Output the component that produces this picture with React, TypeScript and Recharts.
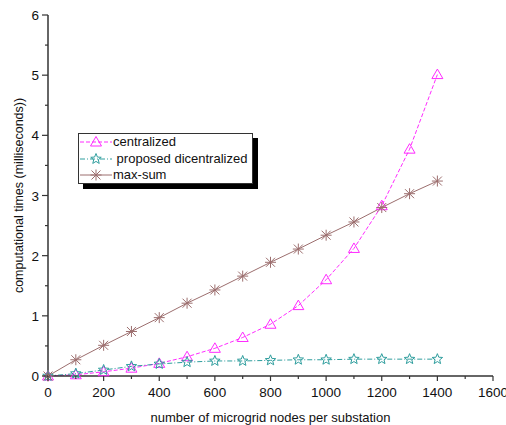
import React from "react";
import { LineChart, Line, XAxis, YAxis, Legend } from "recharts";

const nodes = [0, 100, 200, 300, 400, 500, 600, 700, 800, 900, 1000, 1100, 1200, 1300, 1400];
const centralized = [0, 0.02, 0.07, 0.13, 0.21, 0.32, 0.46, 0.64, 0.86, 1.17, 1.6, 2.12, 2.83, 3.77, 5.01];
const proposed = [0, 0.04, 0.1, 0.16, 0.2, 0.23, 0.25, 0.25, 0.26, 0.27, 0.27, 0.28, 0.28, 0.28, 0.28];
const maxSum = [0, 0.27, 0.51, 0.74, 0.97, 1.21, 1.43, 1.66, 1.89, 2.11, 2.34, 2.56, 2.8, 3.03, 3.24];

const xTicks = [0, 100, 200, 300, 400, 500, 600, 700, 800, 900, 1000, 1100, 1200, 1300, 1400, 1500, 1600];
const yTicks = [0, 0.5, 1, 1.5, 2, 2.5, 3, 3.5, 4, 4.5, 5, 5.5, 6];

const data = nodes.map((x, i) => ({
  x,
  centralized: centralized[i],
  proposed: proposed[i],
  maxSum: maxSum[i]
}));

const FONT = "'Liberation Sans', Arial, sans-serif";
const AXIS = "#333";
const MAGENTA = "#ff2bff";
const TEAL = "#2f9e9e";
const BROWN = "#9c6e6e";

const Triangle = ({ cx, cy, color }: { cx: number; cy: number; color: string }) => (
  <path
    d={`M${cx},${cy - 5.5} L${cx + 5.5},${cy + 4} L${cx - 5.5},${cy + 4} Z`}
    fill="none"
    stroke={color}
    strokeWidth={1}
  />
);

const Star = ({ cx, cy, color }: { cx: number; cy: number; color: string }) => {
  const pts: string[] = [];
  for (let k = 0; k < 10; k++) {
    const r = k % 2 === 0 ? 5.5 : 2.4;
    const a = -Math.PI / 2 + (k * Math.PI) / 5;
    pts.push(`${cx + r * Math.cos(a)},${cy + r * Math.sin(a)}`);
  }
  return <polygon points={pts.join(" ")} fill="none" stroke={color} strokeWidth={1} />;
};

const Asterisk = ({ cx, cy, color }: { cx: number; cy: number; color: string }) => (
  <g stroke={color} strokeWidth={1}>
    <line x1={cx - 4.5} y1={cy - 4.5} x2={cx + 4.5} y2={cy + 4.5} />
    <line x1={cx - 4.5} y1={cy + 4.5} x2={cx + 4.5} y2={cy - 4.5} />
    <line x1={cx} y1={cy - 5.5} x2={cx} y2={cy + 5.5} />
    <line x1={cx - 5.5} y1={cy} x2={cx + 5.5} y2={cy} />
  </g>
);

const series = [
  { key: "centralized", label: "centralized", color: MAGENTA, dash: "4 2", Marker: Triangle },
  { key: "proposed", label: " proposed dicentralized", color: TEAL, dash: "5 2 1 2", Marker: Star },
  { key: "maxSum", label: "max-sum", color: BROWN, dash: undefined, Marker: Asterisk }
];

const BottomTick = (props: any) => {
  const { x, y, payload } = props;
  const major = payload.value % 200 === 0;
  return (
    <g>
      <line x1={x} x2={x} y1={y} y2={y + (major ? 5 : 3)} stroke={AXIS} strokeWidth={1.2} />
      {major && (
        <text x={x} y={y + 21} textAnchor="middle" fontSize={13.5} fontFamily={FONT} fill="#111">
          {payload.value}
        </text>
      )}
    </g>
  );
};

const TopTick = (props: any) => {
  const { x, y, payload } = props;
  const major = payload.value % 200 === 0;
  return <line x1={x} x2={x} y1={y} y2={y + (major ? 6 : 3)} stroke={AXIS} strokeWidth={1.2} />;
};

const LeftTick = (props: any) => {
  const { x, y, payload } = props;
  const major = Number.isInteger(payload.value);
  return (
    <g>
      <line x1={x} x2={x - (major ? 6 : 3)} y1={y} y2={y} stroke={AXIS} strokeWidth={1.2} />
      {major && (
        <text x={x - 9} y={y + 5} textAnchor="end" fontSize={13.5} fontFamily={FONT} fill="#111">
          {payload.value}
        </text>
      )}
    </g>
  );
};

const RightTick = (props: any) => {
  const { x, y, payload } = props;
  const major = Number.isInteger(payload.value);
  return <line x1={x} x2={x - (major ? 6 : 3)} y1={y} y2={y} stroke={AXIS} strokeWidth={1.2} />;
};

const LegendBox = () => (
  <div
    style={{
      width: 175,
      height: 51,
      boxSizing: "border-box",
      border: "1px solid #333",
      background: "#fff",
      boxShadow: "5px 5px 0 #000",
      fontFamily: FONT,
      fontSize: 13,
      color: "#111"
    }}
  >
    {series.map((s) => (
      <div key={s.key} style={{ display: "flex", alignItems: "center", height: 16.5, lineHeight: "16px" }}>
        <svg width={34} height={14} style={{ flex: "none" }}>
          <line x1={1} x2={33} y1={7} y2={7} stroke={s.color} strokeDasharray={s.dash} strokeWidth={1} />
          <s.Marker cx={17} cy={7} color={s.color} />
        </svg>
        <span style={{ whiteSpace: "pre" }}>{s.label}</span>
      </div>
    ))}
  </div>
);

export default function App() {
  return (
    <div style={{ position: "absolute", left: 0, top: 0 }}>
      <LineChart width={506} height={425} data={data} margin={{ top: 15, right: 13, left: 0, bottom: 0 }}>
        <XAxis
          xAxisId="b"
          dataKey="x"
          type="number"
          domain={[0, 1600]}
          ticks={xTicks}
          interval={0}
          height={49}
          tickSize={0}
          tickMargin={0}
          tickLine={false}
          tick={<BottomTick />}
          stroke={AXIS}
          strokeWidth={1.5}
          label={{
            value: "number of microgrid nodes per substation",
            position: "insideBottom",
            offset: 3,
            fontSize: 13,
            fontFamily: FONT,
            fill: "#111"
          }}
        />
        <XAxis
          xAxisId="t"
          dataKey="x"
          type="number"
          orientation="top"
          domain={[0, 1600]}
          ticks={xTicks}
          interval={0}
          height={0}
          tickSize={0}
          tickMargin={0}
          tickLine={false}
          tick={<TopTick />}
          stroke={AXIS}
          strokeWidth={1.5}
        />
        <YAxis
          yAxisId="l"
          type="number"
          domain={[0, 6]}
          ticks={yTicks}
          interval={0}
          width={48}
          tickSize={0}
          tickMargin={0}
          tickLine={false}
          tick={<LeftTick />}
          stroke={AXIS}
          strokeWidth={1.5}
          label={{
            value: "computational times (milliseconds))",
            angle: -90,
            position: "insideLeft",
            offset: 19,
            style: { textAnchor: "middle" },
            fontSize: 12.5,
            fontFamily: FONT,
            fill: "#111"
          }}
        />
        <YAxis
          yAxisId="r"
          type="number"
          orientation="right"
          domain={[0, 6]}
          ticks={yTicks}
          interval={0}
          width={0}
          tickSize={0}
          tickMargin={0}
          tickLine={false}
          tick={<RightTick />}
          stroke={AXIS}
          strokeWidth={1.5}
        />
        <Legend
          layout="horizontal"
          verticalAlign="middle"
          align="center"
          content={() => <LegendBox />}
          wrapperStyle={{ position: "absolute", left: 78, top: 133, width: "auto", bottom: "auto", right: "auto" }}
        />
        {series.map((s) => (
          <Line
            key={s.key}
            xAxisId="b"
            yAxisId="l"
            type="linear"
            dataKey={s.key}
            stroke={s.color}
            strokeWidth={1}
            strokeDasharray={s.dash}
            isAnimationActive={false}
            dot={(p: any) => <s.Marker key={`${s.key}-${p.index}`} cx={p.cx} cy={p.cy} color={s.color} />}
            activeDot={false}
          />
        ))}
      </LineChart>
    </div>
  );
}
